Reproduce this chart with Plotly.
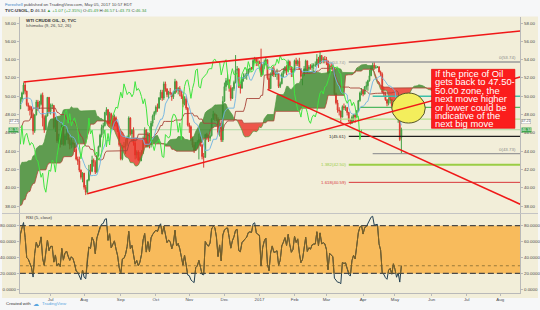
import numpy as np
import pandas as pd
import plotly.graph_objects as go

W, H = 540, 310

# ---------------- daily TVC:USOIL data (weeks Mon..Fri, Feb 15 2016 -> May 05 2017) ----------------
close = [
    29.40, 29.04, 30.66, 30.77, 29.64,
    31.48, 31.87, 32.15, 33.07, 32.78,
    33.75, 34.40, 34.66, 34.57, 35.92,
    37.90, 36.50, 38.29, 37.84, 38.50,
    37.18, 36.34, 38.46, 40.20, 39.44,
    39.91, 41.45, 39.79, 39.46, 39.46,
    39.39, 38.28, 38.32, 38.34, 36.79,
    35.70, 35.89, 37.75, 37.26, 39.72,
    40.36, 42.17, 41.76, 41.50, 40.36,
    39.78, 41.08, 42.63, 43.18, 43.73,
    42.64, 44.04, 45.33, 46.03, 45.92,
    44.78, 43.65, 43.78, 44.32, 44.66,
    43.44, 44.66, 46.23, 46.70, 46.21,
    47.72, 48.31, 48.19, 48.16, 47.75,
    48.08, 48.62, 49.56, 49.48, 49.33,
    49.33, 49.10, 49.01, 49.17, 48.62,
    49.69, 50.36, 51.23, 50.56, 49.07,
    48.88, 48.49, 48.01, 46.21, 47.98,
    49.37, 48.85, 49.13, 50.11, 47.64,
    46.33, 47.85, 49.88, 48.33, 48.99,
    49.00, 46.60, 47.43, 45.14, 45.41,
    44.76, 46.80, 44.75, 45.68, 45.95,
    45.24, 44.65, 44.94, 44.75, 44.19,
    43.13, 42.92, 41.92, 41.14, 41.60,
    40.06, 39.51, 40.83, 41.93, 41.80,
    43.02, 42.77, 41.71, 43.49, 44.49,
    45.74, 46.58, 46.79, 48.22, 48.52,
    47.05, 48.10, 46.77, 47.33, 47.64,
    46.98, 46.35, 44.70, 43.16, 44.44,
    44.50, 44.83, 45.50, 47.62, 45.88,
    46.29, 44.90, 43.58, 43.91, 43.03,
    43.30, 43.85, 45.34, 46.32, 44.48,
    45.93, 44.67, 47.05, 47.83, 48.24,
    48.81, 48.69, 49.83, 50.44, 49.81,
    51.35, 50.79, 50.18, 50.44, 50.35,
    49.94, 50.29, 51.60, 50.63, 50.85,
    50.52, 49.96, 49.18, 49.72, 48.70,
    46.86, 46.67, 45.34, 44.66, 44.07,
    44.89, 44.98, 45.27, 44.66, 43.41,
    43.32, 45.81, 45.57, 45.42, 45.69,
    47.49, 48.03, 47.96, 47.50, 46.06,
    47.08, 45.23, 49.44, 51.06, 51.68,
    51.79, 50.93, 49.77, 50.84, 51.50,
    52.83, 52.98, 51.04, 50.90, 51.90,
    52.12, 52.23, 52.49, 52.95, 53.02,
    53.00, 53.90, 54.06, 53.77, 53.72,
    53.70, 52.33, 53.26, 53.76, 53.99,
    51.96, 50.82, 52.25, 53.01, 52.37,
    52.40, 52.48, 51.08, 51.37, 52.42,
    52.75, 53.18, 52.75, 53.78, 53.17,
    52.63, 52.81, 53.88, 53.54, 53.83,
    53.01, 52.17, 52.34, 53.00, 53.86,
    52.93, 53.20, 53.11, 53.36, 53.40,
    53.40, 54.06, 53.59, 54.45, 53.99,
    54.05, 54.01, 53.83, 52.61, 53.33,
    53.20, 53.14, 50.28, 49.28, 48.49,
    48.40, 47.72, 48.86, 48.75, 48.78,
    48.22, 47.34, 47.04, 47.70, 47.97,
    47.73, 48.37, 49.51, 50.35, 50.60,
    50.24, 51.03, 51.15, 51.70, 52.24,
    53.08, 53.40, 53.11, 53.18, 53.20,
    52.65, 52.41, 50.44, 50.27, 49.62,
    49.23, 49.56, 49.62, 48.97, 49.33,
    48.84, 47.66, 47.82, 45.27, 46.34,
]
high = [
    29.9, 30.0, 30.9, 31.3, 30.9,
    31.7, 32.2, 32.4, 33.5, 33.3,
    33.9, 34.8, 35.0, 35.3, 36.2,
    38.3, 37.9, 38.5, 38.6, 38.7,
    38.6, 37.4, 38.7, 40.5, 40.4,
    40.1, 41.9, 41.6, 40.0, 39.7,
    39.8, 39.6, 38.8, 38.9, 38.4,
    36.9, 36.2, 37.9, 38.0, 39.8,
    40.6, 42.4, 42.4, 42.0, 41.6,
    40.8, 41.3, 42.9, 43.5, 43.9,
    43.8, 44.2, 45.5, 46.8, 46.6,
    46.1, 45.0, 44.3, 45.3, 44.9,
    44.9, 44.8, 46.4, 46.9, 47.0,
    48.1, 48.4, 48.7, 48.4, 48.2,
    48.4, 48.7, 49.7, 50.2, 49.6,
    49.5, 49.8, 49.2, 49.4, 49.4,
    49.9, 50.5, 51.5, 51.6, 50.6,
    49.3, 49.0, 48.9, 48.2, 48.0,
    49.6, 49.6, 49.5, 50.3, 50.4,
    47.9, 48.0, 49.9, 49.9, 49.2,
    49.2, 49.0, 47.7, 47.5, 45.9,
    45.9, 46.9, 46.9, 45.9, 46.4,
    46.1, 45.5, 45.5, 45.2, 44.9,
    44.4, 43.4, 43.4, 42.0, 41.7,
    41.6, 40.3, 40.9, 42.5, 42.6,
    43.5, 43.2, 43.0, 43.6, 44.6,
    45.9, 46.9, 47.1, 48.3, 48.8,
    48.6, 48.3, 48.2, 47.6, 48.0,
    47.8, 47.1, 46.4, 44.9, 44.7,
    45.0, 45.3, 45.7, 47.8, 47.7,
    46.4, 46.6, 45.2, 44.1, 44.1,
    43.9, 44.1, 45.6, 46.6, 46.4,
    46.1, 46.0, 47.3, 48.0, 48.4,
    49.0, 49.2, 49.9, 50.7, 50.7,
    51.6, 51.6, 50.9, 50.6, 50.9,
    50.4, 50.6, 51.9, 51.7, 51.0,
    51.1, 50.6, 50.2, 50.0, 50.0,
    48.8, 47.1, 46.8, 45.6, 45.0,
    45.0, 45.2, 45.9, 45.6, 44.8,
    43.8, 45.9, 46.0, 45.8, 46.4,
    47.6, 48.4, 48.2, 48.0, 47.7,
    47.5, 47.3, 50.0, 51.5, 52.0,
    52.4, 51.8, 51.2, 51.0, 51.7,
    54.5, 53.3, 53.1, 51.4, 52.1,
    52.5, 52.5, 53.0, 53.0, 53.1,
    53.2, 54.1, 54.3, 54.2, 54.1,
    53.9, 55.2, 53.5, 54.0, 54.3,
    54.0, 52.5, 52.6, 53.2, 53.3,
    52.7, 53.0, 52.5, 51.6, 52.6,
    53.1, 53.3, 53.4, 54.0, 53.9,
    53.2, 53.0, 54.0, 54.2, 54.0,
    54.2, 53.0, 52.5, 53.3, 54.0,
    53.9, 53.4, 53.5, 53.6, 53.6,
    53.8, 54.6, 54.3, 54.9, 54.5,
    54.3, 54.4, 54.3, 53.9, 53.5,
    53.6, 53.5, 53.2, 50.4, 49.6,
    48.8, 48.4, 49.0, 49.2, 49.0,
    48.8, 48.3, 47.5, 47.9, 48.0,
    48.1, 48.5, 49.6, 50.5, 50.9,
    50.8, 51.1, 51.6, 51.8, 52.9,
    53.3, 53.7, 53.74, 53.4, 53.3,
    53.3, 52.8, 52.6, 51.0, 50.5,
    49.7, 49.8, 49.9, 49.7, 49.4,
    49.4, 48.9, 48.3, 47.9, 46.57,
]
low = [
    29.0, 28.6, 28.9, 30.2, 29.3,
    29.5, 31.0, 30.6, 31.8, 32.3,
    32.4, 33.5, 34.0, 34.0, 34.4,
    35.8, 36.0, 36.3, 37.2, 37.1,
    36.9, 35.8, 36.2, 38.3, 39.0,
    38.9, 39.6, 39.4, 38.9, 39.2,
    39.0, 37.8, 37.8, 37.9, 36.6,
    35.3, 35.2, 35.5, 37.1, 37.2,
    39.6, 40.3, 41.1, 41.0, 40.1,
    38.0, 39.7, 40.7, 42.6, 42.9,
    42.3, 42.5, 43.8, 44.9, 45.4,
    44.5, 43.4, 43.2, 43.5, 43.7,
    43.0, 43.2, 44.6, 45.9, 45.8,
    46.1, 47.4, 47.8, 47.3, 47.5,
    47.6, 47.8, 48.5, 49.2, 48.9,
    49.1, 48.3, 48.0, 48.5, 48.4,
    48.6, 49.4, 50.2, 50.2, 48.9,
    48.4, 47.9, 47.6, 45.8, 46.0,
    47.9, 48.4, 48.6, 49.0, 46.7,
    46.0, 46.3, 47.8, 48.1, 48.0,
    48.6, 46.4, 46.1, 44.9, 44.8,
    44.4, 44.7, 44.6, 44.6, 45.2,
    44.8, 44.2, 44.3, 44.4, 43.9,
    43.0, 42.5, 41.7, 40.9, 40.6,
    39.8, 39.2, 39.3, 40.7, 41.4,
    41.7, 42.3, 41.5, 41.6, 43.4,
    44.4, 45.5, 45.9, 46.7, 47.9,
    46.9, 47.0, 46.6, 46.5, 46.7,
    46.7, 46.1, 44.5, 43.0, 43.0,
    44.3, 43.7, 44.6, 45.3, 45.7,
    45.0, 44.6, 43.1, 43.2, 42.9,
    42.9, 42.9, 43.7, 45.2, 44.4,
    44.4, 44.3, 44.4, 46.7, 47.4,
    48.0, 48.3, 48.7, 49.6, 49.5,
    49.6, 50.5, 49.9, 49.7, 50.1,
    49.5, 49.7, 50.3, 50.4, 50.2,
    50.0, 49.7, 48.8, 49.0, 48.5,
    46.7, 46.0, 45.1, 44.4, 43.8,
    44.0, 44.3, 43.1, 44.5, 43.1,
    42.2, 43.3, 45.2, 45.0, 45.1,
    45.6, 47.4, 47.3, 47.3, 45.8,
    45.6, 45.0, 45.0, 49.4, 50.6,
    51.2, 50.5, 49.5, 49.7, 50.6,
    51.4, 52.4, 50.9, 50.3, 50.8,
    51.6, 51.9, 51.8, 52.3, 52.6,
    52.9, 52.9, 53.7, 53.3, 53.3,
    53.5, 52.1, 52.3, 53.0, 53.4,
    51.8, 50.7, 50.8, 52.2, 52.1,
    52.1, 51.8, 50.9, 50.9, 51.3,
    52.1, 52.5, 52.3, 52.7, 53.0,
    52.1, 52.1, 52.7, 53.3, 53.3,
    52.9, 51.8, 51.2, 52.2, 52.8,
    52.5, 52.7, 52.9, 52.8, 52.9,
    53.2, 53.4, 53.1, 53.5, 53.6,
    53.6, 53.6, 53.4, 52.4, 52.5,
    52.9, 52.6, 50.1, 49.1, 48.2,
    47.9, 47.1, 47.7, 48.5, 48.4,
    47.9, 47.2, 46.9, 47.0, 47.2,
    47.1, 47.7, 48.3, 49.4, 50.1,
    50.0, 50.2, 50.7, 50.6, 51.6,
    52.2, 52.8, 52.9, 53.0, 53.1,
    52.6, 52.2, 50.3, 50.0, 49.5,
    48.9, 49.0, 49.2, 48.7, 48.8,
    48.6, 47.5, 47.1, 45.1, 43.73,
]
last_open = 45.49

# ---------------- drawings ----------------
fib_levels = [53.74, 45.61, 43.73, 42.50, 40.59]
fib_names = ["0(53.74)", "1(45.61)", "0(43.73)", "1.382(42.50)", "1.618(40.59)"]
fib_start = ["2017-03-21", "2017-03-21", "2017-04-11", "2017-03-21", "2017-03-21"]
fib_colors = ["#9a9a9a", "#1e1e1e", "#9a9a9a", "#9acd45", "#d8363a"]
fib_widths = [1.4, 1.4, 1.4, 2.0, 1.0]
fib_label_left = [True, True, False, True, True]
fib_label_right = [True, False, True, False, False]

zone_levels = [50.00, 48.79, 47.50]
zone_start = ["2017-04-11", "2017-03-30", "2017-03-03"]
zone_colors = ["#3cbfa8", "#4fb860", "#b6e08a"]

x_start, x_end = "2016-06-03 16:48", "2017-08-17 12:00"
trend_x0 = ["2016-06-08", "2016-08-03", "2017-01-09"]
trend_y0 = [51.55, 39.35, 50.75]
trend_x1 = [x_end, x_end, x_end]
trend_y1 = [57.13, 52.10, 38.20]

circle_x = ["2017-04-27", "2017-05-26"]
circle_y = [47.07, 50.35]

box_lines = ["If the price of Oil", "gets back to 47.50-", "50.00 zone, the",
             "next move higher", "or lower could be", "indicative of the", "next big move"]
scale_label_level = 47.21

price_ticks = [38, 40, 42, 44, 46, 48, 50, 52, 54, 56, 58]
rsi_ticks = [0, 20, 40, 60, 80]
month_ticks = ["2016-07-01", "2016-08-01", "2016-09-01", "2016-10-03", "2016-11-01", "2016-12-01",
               "2017-01-02", "2017-02-01", "2017-03-01", "2017-04-03", "2017-05-01", "2017-06-01",
               "2017-07-03", "2017-08-01"]
month_labels = ["Jul", "Aug", "Sep", "Oct", "Nov", "Dec", "2017", "Feb", "Mar", "Apr", "May", "Jun",
                "Jul", "Aug"]

# ---------------- derived series ----------------
dates = pd.bdate_range(end="2017-05-05", periods=len(close))
opens = [close[0]] + close[:-1]
opens[-1] = last_open

s_h, s_l, s_c = pd.Series(high), pd.Series(low), pd.Series(close)


def donchian_mid(n):
    return ((s_h.rolling(n).max() + s_l.rolling(n).min()) / 2).to_numpy()


conv = donchian_mid(9)
base = donchian_mid(26)
lead_a = (conv + base) / 2
lead_b = donchian_mid(52)
disp = 25
future = pd.bdate_range(dates[-1] + pd.offsets.BDay(1), periods=disp)
all_dates = dates.append(future)
lead_x = all_dates[disp:disp + len(dates)]
ok = ~np.isnan(lead_b)
lx, la, lb = lead_x[ok], lead_a[ok], lead_b[ok]
top = np.maximum(la, lb)

d = s_c.diff()
up = d.clip(lower=0).ewm(alpha=1 / 5, adjust=False).mean()
dn = (-d.clip(upper=0)).ewm(alpha=1 / 5, adjust=False).mean()
rsi = (100 - 100 / (1 + up / dn)).to_numpy()

# ---------------- layout geometry ----------------
def py(p):
    return 1 - p / H


def pxx(p):
    return p / W


main_dom = [py(213), py(17)]
rsi_dom = [py(293), py(214)]
x_dom = [pxx(18), pxx(522)]
price_rng = [37.24, 58.66]
rsi_rng = [-4.6, 94.7]


def sub_domain(dom, rng, lo, hi):
    f = lambda v: dom[0] + (v - rng[0]) / (rng[1] - rng[0]) * (dom[1] - dom[0])
    return [f(lo), f(hi)]


band_dom = sub_domain(rsi_dom, rsi_rng, 20, 80)

BEIGE = "#f2eed9"
FONT = "Liberation Sans, Arial, sans-serif"
TXT = "#4a4a4a"
AX = "#b9b9b9"

fig = go.Figure()
nol = dict(width=0)

# cloud
fig.add_trace(go.Scatter(x=lx, y=lb, mode="lines", line=nol, hoverinfo="skip"))
fig.add_trace(go.Scatter(x=lx, y=top, mode="lines", line=nol, fill="tonexty",
                         fillcolor="rgba(58,135,45,0.80)", hoverinfo="skip"))
fig.add_trace(go.Scatter(x=lx, y=la, mode="lines", line=nol, hoverinfo="skip"))
fig.add_trace(go.Scatter(x=lx, y=top, mode="lines", line=nol, fill="tonexty",
                         fillcolor="rgba(236,45,35,0.78)", hoverinfo="skip"))
fig.add_trace(go.Scatter(x=lx, y=la, mode="lines", line=dict(color="#4d9a3c", width=0.7)))
fig.add_trace(go.Scatter(x=lx, y=lb, mode="lines", line=dict(color="#b4483a", width=0.8)))

# fib / zone lines
for lvl, x0, col, w in zip(fib_levels, fib_start, fib_colors, fib_widths):
    fig.add_trace(go.Scatter(x=[x0, x_end], y=[lvl, lvl], mode="lines", line=dict(color=col, width=w)))
for lvl, x0, col in zip(zone_levels, zone_start, zone_colors):
    fig.add_trace(go.Scatter(x=[x0, x_end], y=[lvl, lvl], mode="lines", line=dict(color=col, width=1.3)))

# candles
fig.add_trace(go.Candlestick(
    x=dates, open=opens, high=high, low=low, close=close,
    increasing=dict(line=dict(color="#44a044", width=1), fillcolor="#44a044"),
    decreasing=dict(line=dict(color="#dc3b30", width=1), fillcolor="#dc3b30"),
    whiskerwidth=0, hoverinfo="skip"))

# ichimoku lines
fig.add_trace(go.Scatter(x=dates, y=base, mode="lines", line=dict(color="#a8453a", width=0.9)))
fig.add_trace(go.Scatter(x=dates, y=conv, mode="lines", line=dict(color="#6db3e3", width=0.9)))
fig.add_trace(go.Scatter(x=dates[:len(dates) - disp], y=close[disp:], mode="lines",
                         line=dict(color="#3fe43f", width=1)))

# left price scale helper trace
fig.add_trace(go.Scatter(x=[dates[-1]], y=[None], yaxis="y3", mode="lines", hoverinfo="skip"))

# RSI
fig.add_trace(go.Scatter(x=dates, y=rsi, mode="lines", line=dict(color="#223f52", width=1),
                         xaxis="x2", yaxis="y2"))
fig.add_trace(go.Scatter(x=dates, y=rsi, mode="lines", line=dict(color="#7f6223", width=1),
                         xaxis="x2", yaxis="y4"))
fig.add_trace(go.Scatter(x=[dates[-1]], y=[None], xaxis="x2", yaxis="y5", mode="lines", hoverinfo="skip"))

shapes = [
    dict(type="rect", xref="paper", yref="paper", x0=0, x1=1, y0=py(298), y1=py(16.5),
         fillcolor=BEIGE, line=dict(width=0), layer="below"),
    dict(type="line", xref="paper", yref="paper", x0=0, x1=1, y0=py(213.5), y1=py(213.5),
         line=dict(color="#c4c4c4", width=1), layer="below"),
    dict(type="rect", xref="x2 domain", yref="y2", x0=0, x1=1, y0=20, y1=80,
         fillcolor="#f8bb5c", line=dict(width=0), layer="below"),
    dict(type="line", xref="x2 domain", yref="y2", x0=0, x1=1, y0=80, y1=80,
         line=dict(color="#4a4a4a", width=1.3, dash="6px,3px"), layer="below"),
    dict(type="line", xref="x2 domain", yref="y2", x0=0, x1=1, y0=20, y1=20,
         line=dict(color="#4a4a4a", width=1.3, dash="6px,3px"), layer="below"),
    dict(type="line", xref="x2 domain", yref="y2", x0=0, x1=1, y0=rsi[-1], y1=rsi[-1],
         line=dict(color="#9a7a38", width=1, dash="dot"), layer="below"),
    dict(type="line", xref="x domain", yref="y", x0=0, x1=1, y0=close[-1], y1=close[-1],
         line=dict(color="rgba(120,200,120,0.55)", width=1), layer="below"),
    # highlight circle
    dict(type="circle", xref="x", yref="y", x0=circle_x[0], x1=circle_x[1], y0=circle_y[0], y1=circle_y[1],
         fillcolor="#f3ee5c", line=dict(color="#55552a", width=1), layer="above"),
]
for a, b, c, e in zip(trend_x0, trend_y0, trend_x1, trend_y1):
    shapes.append(dict(type="line", xref="x", yref="y", x0=a, y0=b, x1=c, y1=e,
                       line=dict(color="#f01818", width=1.6), layer="above"))
shapes.append(dict(type="rect", xref="paper", yref="paper", x0=pxx(432.7), x1=pxx(516.7),
                   y0=py(128.3), y1=py(69.3), fillcolor="#fb1d1d", line=dict(color="#e00000", width=0.6),
                   layer="above"))

ann = []


def A(text, x, y, xref="paper", yref="paper", xanchor="left", yanchor="middle", size=4.4, color=TXT, **kw):
    ann.append(dict(text=text, x=x, y=y, xref=xref, yref=yref, xanchor=xanchor, yanchor=yanchor,
                    showarrow=False, font=dict(family=kw.pop("family", FONT), size=size, color=color), **kw))


G = "#3b9b3b"
A('<span style="color:#3d85c6">Forexhell</span> published on TradingView.com, May 05, 2017 10:57 EDT',
  pxx(1), py(4.5), size=4.3)
A('<b>TVC:USOIL, D</b> 46.34 <span style="color:%s">\u25b2 +1.07 (+2.35%%)</span> O:<span style="color:%s">45.49</span> '
  'H:<span style="color:%s">46.57</span> L:<span style="color:%s">43.73</span> C:<span style="color:%s">46.34</span>'
  % (G, G, G, G, G), pxx(1), py(10.5), size=4.3, color="#333")
A("<b>WTI CRUDE OIL, D, TVC</b>", pxx(22), py(20.7), size=4.4, color="#333")
A("Ichimoku (9, 26, 52, 26)", pxx(22), py(25.4), size=4.3, color="#444")
A("RSI (5, close)", pxx(22), py(217.5), size=4.3, color="#333")
A("Created with", pxx(2), py(303.5), size=4.4, color="#333")
A("\u2601", pxx(29), py(303.3), size=6, color="#5aa6e0", family="DejaVu Sans")
A("TradingView", pxx(38), py(303.5), size=4.4, color="#5aa6e0")

for lvl, name, col, l, r in zip(fib_levels, fib_names, fib_colors, fib_label_left, fib_label_right):
    if l:
        ann.append(dict(text=name, x=fib_start[fib_levels.index(lvl)], y=lvl, xref="x", yref="y",
                        xanchor="right", yanchor="middle", showarrow=False, xshift=-1,
                        font=dict(family=FONT, size=4.4, color=col)))
    if r:
        A(name, 0.995, lvl, xref="x domain", yref="y", xanchor="right", yanchor="bottom",
          size=4.4, color="#8a8a8a")

for i, t in enumerate(box_lines):
    A(t, pxx(434.3), py(73.6 + i * 8.35), size=9.4, color="white", family=FONT)

for side in ("L", "R"):
    xx = pxx(17.3) if side == "L" else pxx(523)
    xa = "right" if side == "L" else "left"
    A("%.2f" % scale_label_level, xx, scale_label_level, yref="y", xanchor=xa, size=3.7, color="#555",
      bgcolor="#ffffff", bordercolor="#9a9a9a", borderwidth=0.4, borderpad=0, yshift=0.6)
    A("%.2f" % close[-1], xx, close[-1], yref="y", xanchor=xa, size=3.7, color="white",
      bgcolor="#3fa34d", borderpad=0, yshift=-0.4)

axis_common = dict(showgrid=False, zeroline=False, tickfont=dict(family=FONT, size=4.4, color=TXT),
                   ticks="outside", ticklen=2, tickcolor=AX, linecolor=AX, linewidth=1)
rb = [dict(bounds=["sat", "mon"])]

fig.update_layout(
    width=W, height=H, autosize=False, margin=dict(l=0, r=0, t=0, b=0),
    paper_bgcolor="#f6f7f8", plot_bgcolor="rgba(0,0,0,0)",
    showlegend=False, hovermode=False,
    shapes=shapes, annotations=ann,
    xaxis=dict(domain=x_dom, type="date", range=[x_start, x_end], rangebreaks=rb, anchor="y",
               showticklabels=False, ticks="", showgrid=False, zeroline=False, showline=False,
               rangeslider=dict(visible=False)),
    xaxis2=dict(domain=x_dom, type="date", range=[x_start, x_end], rangebreaks=rb, anchor="y2",
                tickvals=month_ticks, ticktext=month_labels, showline=True, tickangle=0, **axis_common),
    yaxis=dict(domain=main_dom, range=price_rng, side="right", anchor="x", showline=True,
               tickvals=price_ticks, ticktext=["%.2f" % v for v in price_ticks], **axis_common),
    yaxis3=dict(range=price_rng, side="left", overlaying="y", anchor="x", showline=True,
                tickvals=price_ticks, ticktext=["%.2f" % v for v in price_ticks], **axis_common),
    yaxis2=dict(domain=rsi_dom, range=rsi_rng, side="right", anchor="x2", showline=True,
                tickvals=rsi_ticks, ticktext=["%.4f" % v for v in rsi_ticks], **axis_common),
    yaxis5=dict(range=rsi_rng, side="left", overlaying="y2", anchor="x2", showline=True,
                tickvals=rsi_ticks, ticktext=["%.4f" % v for v in rsi_ticks], **axis_common),
    yaxis4=dict(domain=band_dom, range=[20, 80], anchor="x2", visible=False, showgrid=False, zeroline=False),
)

fig.write_html("out.html")
